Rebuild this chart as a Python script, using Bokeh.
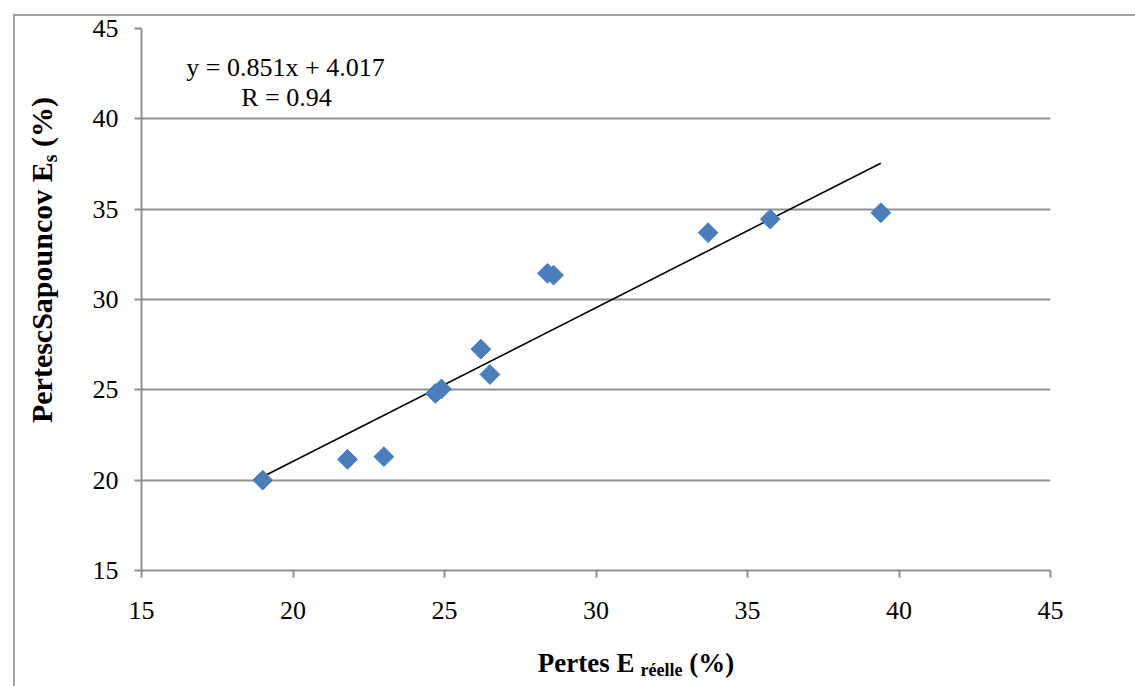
import numpy as np
from bokeh.plotting import figure
from bokeh.models import Label, Range1d, Div
from bokeh.layouts import column
from bokeh.embed import file_html
from bokeh.resources import INLINE

# ---- data ----
pertes_reelle = [19.0, 21.8, 23.0, 24.7, 24.9, 26.2, 26.5, 28.4, 28.6, 33.7, 35.75, 39.4]
pertes_sapouncov = [20.0, 21.15, 21.3, 24.8, 25.05, 27.25, 25.85, 31.45, 31.35, 33.7, 34.45, 34.8]
slope = 0.851
intercept = 4.017
r_value = 0.94
x_ticks = [15, 20, 25, 30, 35, 40, 45]
y_ticks = [15, 20, 25, 30, 35, 40, 45]
x_title = ("Pertes E", "réelle", "(%)")
y_title = ("PertescSapouncov E", "s", "(%)")

# ---- layout constants (page pixels) ----
W, H = 1135, 686
FL, FR, FT, FB = 141, 1050, 28, 570
X0, X1, Y0, Y1 = 15, 45, 15, 45

def px2x(px):
    return X0 + (px - FL) / (FR - FL) * (X1 - X0)

def px2y(py):
    return Y0 + (FB - py) / (FB - FT) * (Y1 - Y0)

FONT = "Liberation Serif"
GRAY = "#8f8f8f"

p = figure(width=W, height=H, x_range=Range1d(X0, X1), y_range=Range1d(Y0, Y1),
           output_backend="svg", toolbar_location=None,
           min_border_left=FL, min_border_right=W - FR,
           min_border_top=FT, min_border_bottom=H - FB)
p.outline_line_color = None
p.background_fill_color = "white"
p.border_fill_color = "white"

for ax, ticks in ((p.xaxis, x_ticks), (p.yaxis, y_ticks)):
    ax.ticker = ticks
    ax.axis_line_color = GRAY
    ax.axis_line_width = 2
    ax.major_tick_line_color = GRAY
    ax.major_tick_line_width = 2
    ax.major_tick_in = 0
    ax.major_tick_out = 7
    ax.minor_tick_line_color = None
    ax.major_label_text_font = FONT
    ax.major_label_text_font_size = "26px"
    ax.major_label_text_color = "black"
p.xaxis.major_label_standoff = 24
p.yaxis.major_label_standoff = 16

p.xgrid.grid_line_color = None
p.ygrid.grid_line_color = GRAY
p.ygrid.grid_line_width = 2

# trend line
tx = np.array([min(pertes_reelle), max(pertes_reelle)])
ty = slope * tx + intercept
p.line(tx, ty, line_color="black", line_width=1.6)

# points
p.scatter(pertes_reelle, pertes_sapouncov, marker="square", angle=np.pi / 4, size=14,
          fill_color="#4a7ebb", line_color="#4a7ebb")

# equation
p.add_layout(Label(x=px2x(285), y=px2y(67), text=f"y = {slope}x + {intercept}",
                   text_align="center", text_baseline="alphabetic",
                   text_font=FONT, text_font_size="26px", text_color="black"))
p.add_layout(Label(x=px2x(286), y=px2y(97), text=f"R = {r_value}",
                   text_align="center", text_baseline="alphabetic",
                   text_font=FONT, text_font_size="26px", text_color="black"))

base_style = {"position": "absolute", "font-family": FONT, "font-weight": "bold",
              "color": "black", "white-space": "nowrap", "text-align": "center",
              "margin": "0", "padding": "0"}

# x axis title (HTML with subscript)
xdiv = Div(text=f'{x_title[0]}<sub style="font-size:18px;vertical-align:-4px;line-height:0;margin-left:6px">{x_title[1]}</sub> {x_title[2]}',
           width=600, height=30,
           styles=dict(base_style, left="336px", top="650px",
                       **{"font-size": "27px", "line-height": "27px"}))

# y axis title (rotated)
ydiv = Div(text=f'{y_title[0]}<sub style="font-size:20px;vertical-align:-5px;line-height:0">{y_title[1]}</sub> {y_title[2]}',
           width=500, height=40,
           styles=dict(base_style, left="-208px", top="225px",
                       transform="translateY(15px) rotate(-90deg)",
                       **{"transform-origin": "50% 50%",
                          "font-size": "30px", "line-height": "40px"}))

# outer frame (top and left edges visible)
frame = Div(text="", width=W - 8, height=H - 9,
            styles={"position": "absolute", "left": "8px", "top": "9px",
                    "border-top": "2px solid #a0a0a0", "border-left": "2px solid #a0a0a0",
                    "box-sizing": "border-box", "pointer-events": "none"})

layout = column(p, xdiv, ydiv, frame, width=W, height=H)

open("out.html", "w").write(file_html(layout, INLINE))
